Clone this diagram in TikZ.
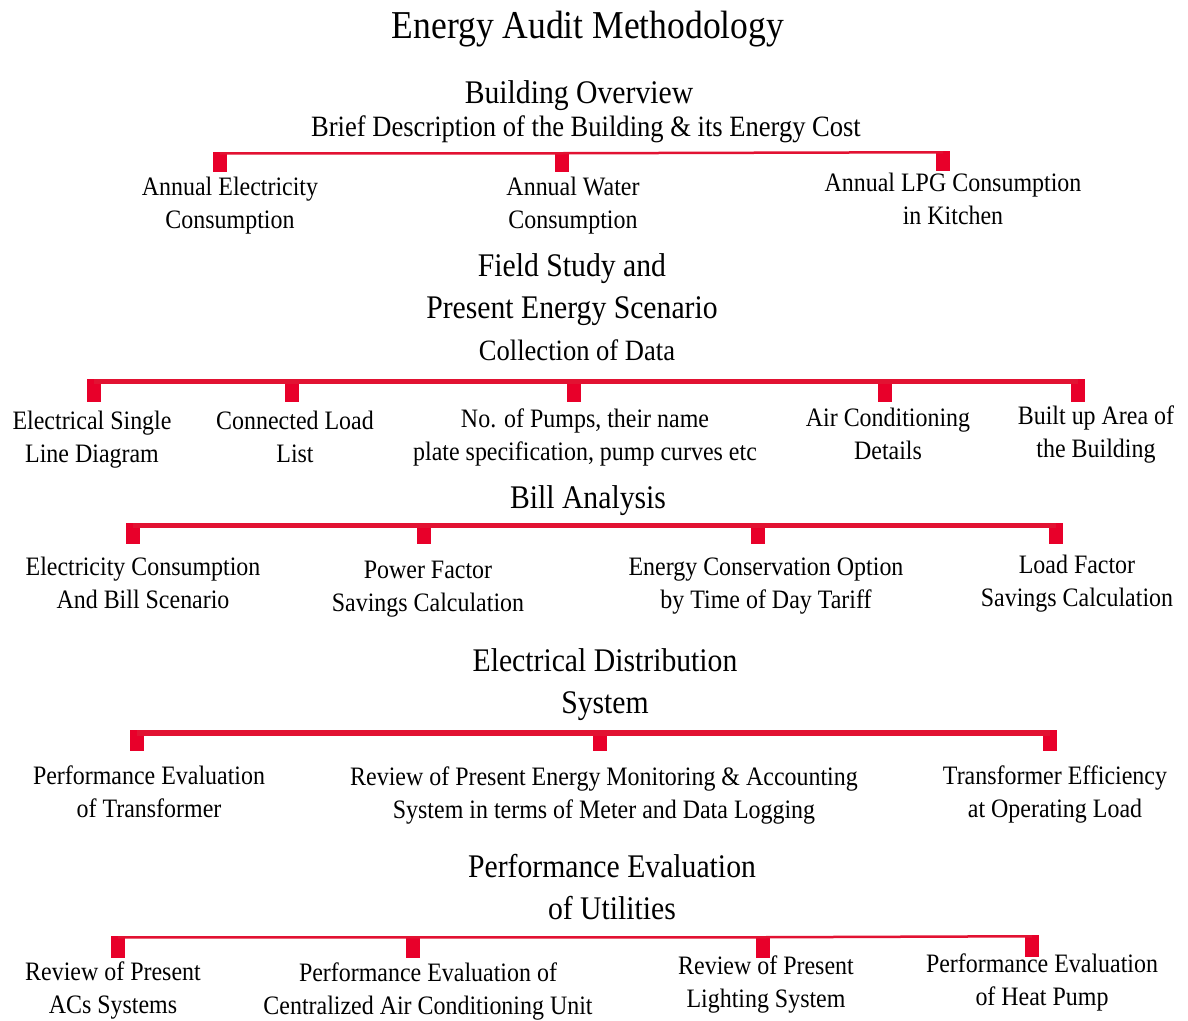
\documentclass[tikz,border=0pt]{standalone}
\usepackage{fontspec}
\setmainfont{Liberation Serif}[FakeStretch=0.9]
\definecolor{tabred}{RGB}{232,0,42}
\definecolor{linered}{RGB}{226,18,50}
\begin{document}
% multi-line labels are anchored at the baseline of their last line
\begin{tikzpicture}[x=1bp,y=-1bp,
  title/.style={font=\fontsize{39.5bp}{48bp}\selectfont, inner sep=0, anchor=base},
  heading/.style={font=\fontsize{33bp}{42.5bp}\selectfont, align=center, inner sep=0, anchor=base},
  subheading/.style={font=\fontsize{29.5bp}{36bp}\selectfont, inner sep=0, anchor=base},
  item/.style={font=\fontsize{26.6bp}{33.5bp}\selectfont, align=center, inner sep=0, anchor=base},
  tab/.style={fill=tabred, minimum width=14bp, minimum height=#1, inner sep=0, anchor=north},
  tab/.default=21bp,
  busline/.style={draw=linered, line width=#1},
]
\useasboundingbox[fill=white] (0,0) rectangle (1188,1021);

\node[title] (t) at (588,38) {Energy Audit Methodology};

% ---- Building overview ----
\node[heading] (h1) at (579,103) {Building Overview};
\node[subheading] (h1s) at (586,136) {Brief Description of the Building \& its Energy Cost};
\node[tab=20bp] (s1a) at (220,152) {};
\node[tab=20bp] (s1b) at (562,152) {};
\node[tab=20bp] (s1c) at (943,151) {};
\draw[busline=2.5bp] ([yshift=-1.25bp]s1a.north) -- ([yshift=-1.25bp]s1b.north) -- ([yshift=-1.25bp]s1c.north);
\node[item] (i1a) at (230,228.5) {Annual Electricity\\Consumption};
\node[item] (i1b) at (573,228.5) {Annual Water\\Consumption};
\node[item] (i1c) at (953,224.5) {Annual LPG Consumption\\in Kitchen};

% ---- Field study ----
\node[heading] (h2) at (572,318.5) {Field Study and\\Present Energy Scenario};
\node[subheading] (h2s) at (577,360) {Collection of Data};
\node[tab=23bp] (s2a) at (94,379) {};
\node[tab=23bp] (s2b) at (292,379) {};
\node[tab=23bp] (s2c) at (574,379) {};
\node[tab=23bp] (s2d) at (885,379) {};
\node[tab=23bp] (s2e) at (1078,379) {};
\draw[busline=5bp] ([yshift=-2.5bp]s2a.north) -- ([yshift=-2.5bp]s2e.north);
\node[item] (i2a) at (92,462.5) {Electrical Single\\Line Diagram};
\node[item] (i2b) at (295,462.5) {Connected Load\\List};
\node[item] (i2c) at (585,460.5) {No. of Pumps, their name\\plate specification, pump curves etc};
\node[item] (i2d) at (888,459.5) {Air Conditioning\\Details};
\node[item] (i2e) at (1096,457.5) {Built up Area of\\the Building};

% ---- Bill analysis ----
\node[heading] (h3) at (588,508) {Bill Analysis};
\node[tab] (s3a) at (133,523) {};
\node[tab] (s3b) at (424,523) {};
\node[tab] (s3c) at (758,523) {};
\node[tab] (s3d) at (1056,523) {};
\draw[busline=4.5bp] ([yshift=-2.25bp]s3a.north) -- ([yshift=-2.25bp]s3d.north);
\node[item] (i3a) at (143,608.5) {Electricity Consumption\\And Bill Scenario};
\node[item] (i3b) at (428,611.5) {Power Factor\\Savings Calculation};
\node[item] (i3c) at (766,608.5) {Energy Conservation Option\\by Time of Day Tariff};
\node[item] (i3d) at (1077,606.5) {Load Factor\\Savings Calculation};

% ---- Electrical distribution ----
\node[heading] (h4) at (605,713.5) {Electrical Distribution\\System};
\node[tab] (s4a) at (137,730) {};
\node[tab] (s4b) at (600,730) {};
\node[tab] (s4c) at (1050,730) {};
\draw[busline=6bp] ([yshift=-3bp]s4a.north) -- ([yshift=-3bp]s4c.north);
\node[item] (i4a) at (149,817.5) {Performance Evaluation\\of Transformer};
\node[item] (i4b) at (604,818.5) {Review of Present Energy Monitoring \& Accounting\\System in terms of Meter and Data Logging};
\node[item] (i4c) at (1055,817.5) {Transformer Efficiency\\at Operating Load};

% ---- Utilities ----
\node[heading] (h5) at (612,919.5) {Performance Evaluation\\of Utilities};
\node[tab=22bp] (s5a) at (118,936) {};
\node[tab=22bp] (s5b) at (413,936) {};
\node[tab=22bp] (s5c) at (763,936) {};
\node[tab=22bp] (s5d) at (1032,935) {};
\draw[busline=2.5bp] ([yshift=-1.25bp]s5a.north) -- ([yshift=-1.25bp]s5b.north) -- ([yshift=-1.25bp]s5c.north) -- ([yshift=-1.25bp]s5d.north);
\node[item] (i5a) at (113,1013.5) {Review of Present\\ACs Systems};
\node[item] (i5b) at (428,1014.5) {Performance Evaluation of\\Centralized Air Conditioning Unit};
\node[item] (i5c) at (766,1007.5) {Review of Present\\Lighting System};
\node[item] (i5d) at (1042,1005.5) {Performance Evaluation\\of Heat Pump};
\end{tikzpicture}
\end{document}
